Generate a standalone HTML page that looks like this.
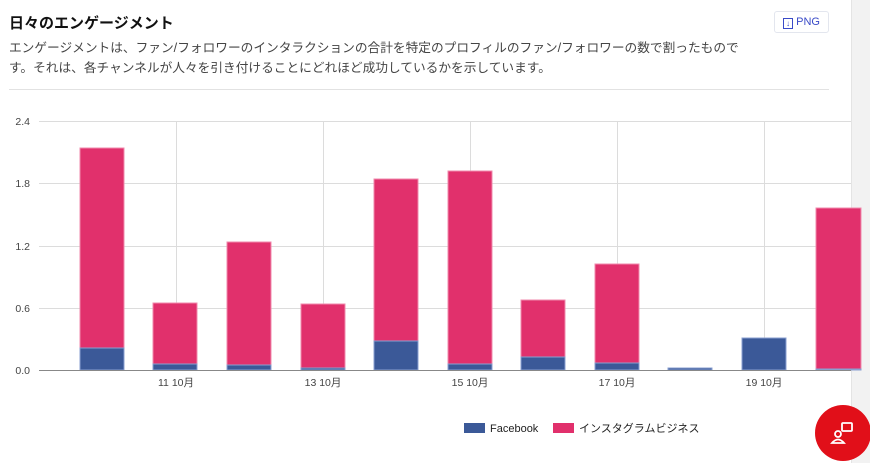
<!DOCTYPE html>
<html><head><meta charset="utf-8"><style>
body{margin:0;width:870px;height:463px;overflow:hidden;background:#fff;font-family:"Liberation Sans","Noto Sans CJK JP",sans-serif;position:relative}
.strip{position:absolute;left:851px;top:0;width:19px;height:463px;background:#f2f2f2;border-left:1px solid #e4e4e4}
h1{position:absolute;left:9px;top:12px;margin:0;font-size:15px;font-weight:bold;color:#111}
.desc{position:absolute;left:9px;top:38px;width:780px;font-size:12.7px;line-height:20px;color:#444;white-space:nowrap}
.btn{position:absolute;left:774px;top:11px;width:53px;height:20px;border:1px solid #e3e6ee;border-radius:3px;font-size:11px;color:#3a4bc8;line-height:21px;text-align:center}
.hr{position:absolute;left:9px;top:89px;width:820px;height:1px;background:#e2e2e2}
</style></head><body>
<div class="strip"></div>
<h1>日々のエンゲージメント</h1>
<div class="desc">エンゲージメントは、ファン/フォロワーのインタラクションの合計を特定のプロフィルのファン/フォロワーの数で割ったもので<br>す。それは、各チャンネルが人々を引き付けることにどれほど成功しているかを示しています。</div>
<div class="btn"><span style="display:inline-block;width:8px;height:9px;border:1px solid #3a4bc8;font-size:8px;line-height:9px;vertical-align:-1px">↓</span> PNG</div>
<div class="hr"></div>
<svg width="870" height="463" style="position:absolute;left:0;top:0" font-family="Liberation Sans, Noto Sans CJK JP, sans-serif">
<g stroke="#dcdcdc" stroke-width="1">
<line x1="39" y1="121.5" x2="851" y2="121.5"/><line x1="39" y1="183.5" x2="851" y2="183.5"/><line x1="39" y1="246.5" x2="851" y2="246.5"/><line x1="39" y1="308.5" x2="851" y2="308.5"/>
<line x1="176.5" y1="121" x2="176.5" y2="370"/><line x1="323.5" y1="121" x2="323.5" y2="370"/><line x1="470.5" y1="121" x2="470.5" y2="370"/><line x1="617.5" y1="121" x2="617.5" y2="370"/><line x1="764.5" y1="121" x2="764.5" y2="370"/>
</g>
<g font-size="10.5" fill="#444" text-anchor="end">
<text x="30" y="125">2.4</text><text x="30" y="187">1.8</text><text x="30" y="250">1.2</text><text x="30" y="312">0.6</text><text x="30" y="374">0.0</text>
</g>
<g fill="#e1306c" stroke="#f08aad" stroke-width="1">
<rect x="80" y="148" width="44" height="200"/><rect x="153" y="303" width="44" height="61"/><rect x="227" y="242" width="44" height="123"/><rect x="301" y="304" width="44" height="64"/><rect x="374" y="179" width="44" height="162"/><rect x="448" y="171" width="44" height="193"/><rect x="521" y="300" width="44" height="57"/><rect x="595" y="264" width="44" height="99"/><rect x="816" y="208" width="45" height="161"/>
</g>
<g fill="#3b5998" stroke="#8a9fd0" stroke-width="1">
<rect x="80" y="348" width="44" height="22"/><rect x="153" y="364" width="44" height="6"/><rect x="227" y="365" width="44" height="5"/><rect x="301" y="368" width="44" height="2"/><rect x="374" y="341" width="44" height="29"/><rect x="448" y="364" width="44" height="6"/><rect x="521" y="357" width="44" height="13"/><rect x="595" y="363" width="44" height="7"/><rect x="668" y="368" width="44" height="2"/><rect x="742" y="338" width="44" height="32"/><rect x="816" y="369" width="45" height="1"/>
</g>
<line x1="39" y1="370.5" x2="851" y2="370.5" stroke="#888" stroke-width="1"/>
<g font-size="10.5" fill="#444" text-anchor="middle">
<text x="176" y="386">11 10月</text><text x="323" y="386">13 10月</text><text x="470" y="386">15 10月</text><text x="617" y="386">17 10月</text><text x="764" y="386">19 10月</text>
</g>
<rect x="464" y="423" width="21" height="10" fill="#3b5998"/><text x="490" y="432" font-size="11" fill="#222">Facebook</text>
<rect x="553" y="423" width="21" height="10" fill="#e1306c"/><text x="579" y="432" font-size="11" fill="#222">インスタグラムビジネス</text>
<circle cx="843" cy="433" r="28" fill="#e10f19"/>
<g stroke="#fff" stroke-width="1.8" fill="none">
<rect x="842" y="423" width="10" height="8" rx="1"/>
<circle cx="838" cy="434" r="3"/>
<path d="M832 443 q6 -7 12 0 z"/>
</g>
</svg>
</body></html>
